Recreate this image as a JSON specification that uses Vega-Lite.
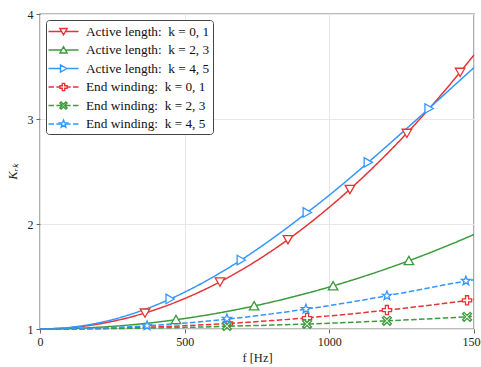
{
  "$schema": "https://vega.github.io/schema/vega-lite/v6.json",
  "width": 434,
  "height": 315,
  "autosize": "none",
  "padding": {"left": 40, "top": 14, "right": 7, "bottom": 38},
  "background": "white",
  "config": {
    "view": {"stroke": "#7a7a7a", "strokeWidth": 1.4},
    "font": "Liberation Serif",
    "axis": {
      "labelFont": "Liberation Serif",
      "labelFontSize": 12,
      "labelColor": "#222",
      "titleFont": "Liberation Serif",
      "titleFontSize": 12.5,
      "titleFontWeight": "normal",
      "titleColor": "#222",
      "domain": false,
      "tickColor": "#666",
      "tickSize": 4,
      "tickWidth": 1,
      "gridColor": "#e8e8e8",
      "gridWidth": 1,
      "labelFlush": false,
      "labelOverlap": false,
      "format": "d"
    },
    "legend": {
      "orient": "top-left",
      "offset": 6,
      "padding": 3,
      "strokeColor": "#444",
      "fillColor": "white",
      "cornerRadius": 3,
      "labelFont": "Liberation Serif",
      "labelFontSize": 13.3,
      "labelColor": "#111",
      "symbolSize": 225,
      "symbolStrokeWidth": 1.4,
      "symbolOffset": 6,
      "labelOffset": 14,
      "rowPadding": 3.5
    }
  },
  "datasets": {
    "curves": [
      {"f": 0, "Active length:\u00a0 k = 0, 1": 1, "Active length:\u00a0 k = 2, 3": 1, "Active length:\u00a0 k = 4, 5": 1, "End winding:\u00a0 k = 0, 1": 1, "End winding:\u00a0 k = 2, 3": 1, "End winding:\u00a0 k = 4, 5": 1},
      {"f": 100, "Active length:\u00a0 k = 0, 1": 1.0116, "Active length:\u00a0 k = 2, 3": 1.004, "Active length:\u00a0 k = 4, 5": 1.014, "End winding:\u00a0 k = 0, 1": 1.001, "End winding:\u00a0 k = 2, 3": 1.0006, "End winding:\u00a0 k = 4, 5": 1.002},
      {"f": 200, "Active length:\u00a0 k = 0, 1": 1.0464, "Active length:\u00a0 k = 2, 3": 1.016, "Active length:\u00a0 k = 4, 5": 1.057, "End winding:\u00a0 k = 0, 1": 1.005, "End winding:\u00a0 k = 2, 3": 1.0025, "End winding:\u00a0 k = 4, 5": 1.009},
      {"f": 300, "Active length:\u00a0 k = 0, 1": 1.1044, "Active length:\u00a0 k = 2, 3": 1.036, "Active length:\u00a0 k = 4, 5": 1.128, "End winding:\u00a0 k = 0, 1": 1.011, "End winding:\u00a0 k = 2, 3": 1.006, "End winding:\u00a0 k = 4, 5": 1.02},
      {"f": 400, "Active length:\u00a0 k = 0, 1": 1.1856, "Active length:\u00a0 k = 2, 3": 1.064, "Active length:\u00a0 k = 4, 5": 1.227, "End winding:\u00a0 k = 0, 1": 1.02, "End winding:\u00a0 k = 2, 3": 1.01, "End winding:\u00a0 k = 4, 5": 1.036},
      {"f": 500, "Active length:\u00a0 k = 0, 1": 1.29, "Active length:\u00a0 k = 2, 3": 1.1, "Active length:\u00a0 k = 4, 5": 1.351, "End winding:\u00a0 k = 0, 1": 1.031, "End winding:\u00a0 k = 2, 3": 1.015, "End winding:\u00a0 k = 4, 5": 1.056},
      {"f": 600, "Active length:\u00a0 k = 0, 1": 1.4176, "Active length:\u00a0 k = 2, 3": 1.144, "Active length:\u00a0 k = 4, 5": 1.498, "End winding:\u00a0 k = 0, 1": 1.045, "End winding:\u00a0 k = 2, 3": 1.022, "End winding:\u00a0 k = 4, 5": 1.081},
      {"f": 700, "Active length:\u00a0 k = 0, 1": 1.5684, "Active length:\u00a0 k = 2, 3": 1.196, "Active length:\u00a0 k = 4, 5": 1.666, "End winding:\u00a0 k = 0, 1": 1.061, "End winding:\u00a0 k = 2, 3": 1.03, "End winding:\u00a0 k = 4, 5": 1.11},
      {"f": 800, "Active length:\u00a0 k = 0, 1": 1.7424, "Active length:\u00a0 k = 2, 3": 1.256, "Active length:\u00a0 k = 4, 5": 1.855, "End winding:\u00a0 k = 0, 1": 1.08, "End winding:\u00a0 k = 2, 3": 1.037, "End winding:\u00a0 k = 4, 5": 1.144},
      {"f": 900, "Active length:\u00a0 k = 0, 1": 1.9396, "Active length:\u00a0 k = 2, 3": 1.324, "Active length:\u00a0 k = 4, 5": 2.06, "End winding:\u00a0 k = 0, 1": 1.101, "End winding:\u00a0 k = 2, 3": 1.045, "End winding:\u00a0 k = 4, 5": 1.182},
      {"f": 1000, "Active length:\u00a0 k = 0, 1": 2.16, "Active length:\u00a0 k = 2, 3": 1.4, "Active length:\u00a0 k = 4, 5": 2.275, "End winding:\u00a0 k = 0, 1": 1.125, "End winding:\u00a0 k = 2, 3": 1.055, "End winding:\u00a0 k = 4, 5": 1.223},
      {"f": 1100, "Active length:\u00a0 k = 0, 1": 2.4036, "Active length:\u00a0 k = 2, 3": 1.484, "Active length:\u00a0 k = 4, 5": 2.505, "End winding:\u00a0 k = 0, 1": 1.151, "End winding:\u00a0 k = 2, 3": 1.066, "End winding:\u00a0 k = 4, 5": 1.268},
      {"f": 1200, "Active length:\u00a0 k = 0, 1": 2.6704, "Active length:\u00a0 k = 2, 3": 1.576, "Active length:\u00a0 k = 4, 5": 2.745, "End winding:\u00a0 k = 0, 1": 1.18, "End winding:\u00a0 k = 2, 3": 1.078, "End winding:\u00a0 k = 4, 5": 1.317},
      {"f": 1300, "Active length:\u00a0 k = 0, 1": 2.9604, "Active length:\u00a0 k = 2, 3": 1.676, "Active length:\u00a0 k = 4, 5": 2.99, "End winding:\u00a0 k = 0, 1": 1.211, "End winding:\u00a0 k = 2, 3": 1.091, "End winding:\u00a0 k = 4, 5": 1.368},
      {"f": 1400, "Active length:\u00a0 k = 0, 1": 3.2736, "Active length:\u00a0 k = 2, 3": 1.784, "Active length:\u00a0 k = 4, 5": 3.24, "End winding:\u00a0 k = 0, 1": 1.245, "End winding:\u00a0 k = 2, 3": 1.105, "End winding:\u00a0 k = 4, 5": 1.421},
      {"f": 1500, "Active length:\u00a0 k = 0, 1": 3.61, "Active length:\u00a0 k = 2, 3": 1.9, "Active length:\u00a0 k = 4, 5": 3.49, "End winding:\u00a0 k = 0, 1": 1.281, "End winding:\u00a0 k = 2, 3": 1.12, "End winding:\u00a0 k = 4, 5": 1.47}
    ],
    "markers": [
      {"s": "Active length:\u00a0 k = 0, 1", "f": 363, "K": 1.153},
      {"s": "Active length:\u00a0 k = 0, 1", "f": 622, "K": 1.449},
      {"s": "Active length:\u00a0 k = 0, 1", "f": 857, "K": 1.852},
      {"s": "Active length:\u00a0 k = 0, 1", "f": 1071, "K": 2.331},
      {"s": "Active length:\u00a0 k = 0, 1", "f": 1268, "K": 2.865},
      {"s": "Active length:\u00a0 k = 0, 1", "f": 1452, "K": 3.446},
      {"s": "Active length:\u00a0 k = 2, 3", "f": 470, "K": 1.088},
      {"s": "Active length:\u00a0 k = 2, 3", "f": 740, "K": 1.219},
      {"s": "Active length:\u00a0 k = 2, 3", "f": 1013, "K": 1.41},
      {"s": "Active length:\u00a0 k = 2, 3", "f": 1275, "K": 1.65},
      {"s": "Active length:\u00a0 k = 4, 5", "f": 449, "K": 1.286},
      {"s": "Active length:\u00a0 k = 4, 5", "f": 695, "K": 1.657},
      {"s": "Active length:\u00a0 k = 4, 5", "f": 923, "K": 2.11},
      {"s": "Active length:\u00a0 k = 4, 5", "f": 1134, "K": 2.587},
      {"s": "Active length:\u00a0 k = 4, 5", "f": 1344, "K": 3.1},
      {"s": "End winding:\u00a0 k = 0, 1", "f": 650, "K": 1.052},
      {"s": "End winding:\u00a0 k = 0, 1", "f": 923, "K": 1.104},
      {"s": "End winding:\u00a0 k = 0, 1", "f": 1199, "K": 1.18},
      {"s": "End winding:\u00a0 k = 0, 1", "f": 1476, "K": 1.273},
      {"s": "End winding:\u00a0 k = 2, 3", "f": 646, "K": 1.029},
      {"s": "End winding:\u00a0 k = 2, 3", "f": 923, "K": 1.048},
      {"s": "End winding:\u00a0 k = 2, 3", "f": 1199, "K": 1.078},
      {"s": "End winding:\u00a0 k = 2, 3", "f": 1476, "K": 1.116},
      {"s": "End winding:\u00a0 k = 4, 5", "f": 370, "K": 1.031},
      {"s": "End winding:\u00a0 k = 4, 5", "f": 646, "K": 1.097},
      {"s": "End winding:\u00a0 k = 4, 5", "f": 919, "K": 1.19},
      {"s": "End winding:\u00a0 k = 4, 5", "f": 1199, "K": 1.317},
      {"s": "End winding:\u00a0 k = 4, 5", "f": 1472, "K": 1.458}
    ]
  },
  "encoding": {
    "x": {"field": "f", "type": "quantitative", "scale": {"domain": [0, 1500], "nice": false, "zero": false},
      "axis": {"values": [0, 500, 1000, 1500], "title": "f [Hz]", "titlePadding": 4, "labelPadding": 3}},
    "y": {"field": "K", "type": "quantitative", "scale": {"domain": [1, 4], "nice": false, "zero": false},
      "axis": {"values": [1, 2, 3, 4], "title": "Kᵣₖ", "titleFontStyle": "italic", "titlePadding": 8, "labelPadding": 3}}
  },
  "layer": [
    {
      "encoding": {
        "stroke": {"field": "s", "type": "nominal",
          "scale": {"domain": ["End winding:\u00a0 k = 4, 5", "End winding:\u00a0 k = 2, 3", "End winding:\u00a0 k = 0, 1", "Active length:\u00a0 k = 4, 5", "Active length:\u00a0 k = 2, 3", "Active length:\u00a0 k = 0, 1"],
            "range": ["#3396ff", "#3c9b3c", "#e63333", "#3396ff", "#3c9b3c", "#e63333"]},
          "legend": null}
      },
      "layer": [
        {
          "data": {"name": "curves"},
          "transform": [{"fold": ["Active length:\u00a0 k = 0, 1", "Active length:\u00a0 k = 2, 3", "Active length:\u00a0 k = 4, 5", "End winding:\u00a0 k = 0, 1", "End winding:\u00a0 k = 2, 3", "End winding:\u00a0 k = 4, 5"], "as": ["s", "K"]}],
          "mark": {"type": "line", "interpolate": "monotone", "strokeWidth": 1.5},
          "encoding": {
            "strokeDash": {"field": "s", "type": "nominal",
              "scale": {"domain": ["End winding:\u00a0 k = 0, 1", "End winding:\u00a0 k = 2, 3", "End winding:\u00a0 k = 4, 5", "Active length:\u00a0 k = 0, 1", "Active length:\u00a0 k = 2, 3", "Active length:\u00a0 k = 4, 5"],
                "range": [[5.5, 2.4], [5.5, 2.4], [5.5, 2.4], [1, 0], [1, 0], [1, 0]]},
              "legend": null}
          }
        },
        {
          "data": {"name": "markers"},
          "transform": [{"filter": {"field": "s", "equal": "Active length:\u00a0 k = 0, 1"}}],
          "mark": {"type": "point", "shape": "M-1,-0.83L1,-0.83L0,0.92Z", "filled": false, "fill": "white", "size": 90, "strokeWidth": 1.3, "opacity": 1}
        },
        {
          "data": {"name": "markers"},
          "transform": [{"filter": {"field": "s", "equal": "Active length:\u00a0 k = 2, 3"}}],
          "mark": {"type": "point", "shape": "M-1,0.83L1,0.83L0,-0.92Z", "filled": false, "fill": "white", "size": 90, "strokeWidth": 1.3, "opacity": 1}
        },
        {
          "data": {"name": "markers"},
          "transform": [{"filter": {"field": "s", "equal": "Active length:\u00a0 k = 4, 5"}}],
          "mark": {"type": "point", "shape": "M-0.83,-1L-0.83,1L0.92,0Z", "filled": false, "fill": "white", "size": 90, "strokeWidth": 1.3, "opacity": 1}
        },
        {
          "data": {"name": "markers"},
          "transform": [{"filter": {"field": "s", "equal": "End winding:\u00a0 k = 0, 1"}}],
          "mark": {"type": "point", "shape": "M-0.33,-1H0.33V-0.33H1V0.33H0.33V1H-0.33V0.33H-1V-0.33H-0.33Z", "filled": false, "fill": "white", "size": 85, "strokeWidth": 1.3, "opacity": 1}
        },
        {
          "data": {"name": "markers"},
          "transform": [{"filter": {"field": "s", "equal": "End winding:\u00a0 k = 2, 3"}}],
          "mark": {"type": "point", "shape": "M-1,-0.67L-0.67,-1L0,-0.33L0.67,-1L1,-0.67L0.33,0L1,0.67L0.67,1L0,0.33L-0.67,1L-1,0.67L-0.33,0Z", "filled": false, "fill": "white", "size": 80, "strokeWidth": 1.3, "opacity": 1}
        },
        {
          "data": {"name": "markers"},
          "transform": [{"filter": {"field": "s", "equal": "End winding:\u00a0 k = 4, 5"}}],
          "mark": {"type": "point", "shape": "M0,-1L0.25,-0.34L0.95,-0.31L0.4,0.13L0.59,0.81L0,0.42L-0.59,0.81L-0.4,0.13L-0.95,-0.31L-0.25,-0.34Z", "filled": false, "fill": "white", "size": 90, "strokeWidth": 1.3, "opacity": 1}
        }
      ]
    },
    {
      "data": {"name": "markers"},
      "transform": [{"filter": "datum.f < 0"}],
      "mark": {"type": "point", "filled": false, "strokeWidth": 1.4, "opacity": 1},
      "encoding": {
        "color": {"field": "s", "type": "nominal",
          "scale": {"domain": ["Active length:\u00a0 k = 0, 1", "Active length:\u00a0 k = 2, 3", "Active length:\u00a0 k = 4, 5", "End winding:\u00a0 k = 0, 1", "End winding:\u00a0 k = 2, 3", "End winding:\u00a0 k = 4, 5"],
            "range": ["#e63333", "#3c9b3c", "#3396ff", "#e63333", "#3c9b3c", "#3396ff"]},
          "legend": {"title": null}},
        "shape": {"field": "s", "type": "nominal",
          "scale": {"domain": ["Active length:\u00a0 k = 0, 1", "Active length:\u00a0 k = 2, 3", "Active length:\u00a0 k = 4, 5", "End winding:\u00a0 k = 0, 1", "End winding:\u00a0 k = 2, 3", "End winding:\u00a0 k = 4, 5"],
            "range": [
              "M-2,0H-0.25M0.25,0H2M-0.48,-0.4L0.48,-0.4L0,0.44Z",
              "M-2,0H-0.25M0.25,0H2M-0.48,0.4L0.48,0.4L0,-0.44Z",
              "M-2,0H-0.4M0.44,0H2M-0.4,-0.48L-0.4,0.48L0.44,0Z",
              "M-2,0H-1.27M-0.95,0H-0.48M0.48,0H0.95M1.27,0H2M-0.16,-0.48H0.16V-0.16H0.48V0.16H0.16V0.48H-0.16V0.16H-0.48V-0.16H-0.16Z",
              "M-2,0H-1.27M-0.95,0H-0.16M0.16,0H0.95M1.27,0H2M-0.48,-0.32L-0.32,-0.48L0,-0.16L0.32,-0.48L0.48,-0.32L0.16,0L0.48,0.32L0.32,0.48L0,0.16L-0.32,0.48L-0.48,0.32L-0.16,0Z",
              "M-2,0H-1.27M-0.95,0H-0.29M0.29,0H0.95M1.27,0H2M0,-0.52L0.13,-0.178L0.494,-0.16L0.21,0.068L0.306,0.42L0,0.22L-0.306,0.42L-0.21,0.068L-0.494,-0.16L-0.13,-0.178Z"
            ]},
          "legend": {"title": null}}
      }
    }
  ]
}
